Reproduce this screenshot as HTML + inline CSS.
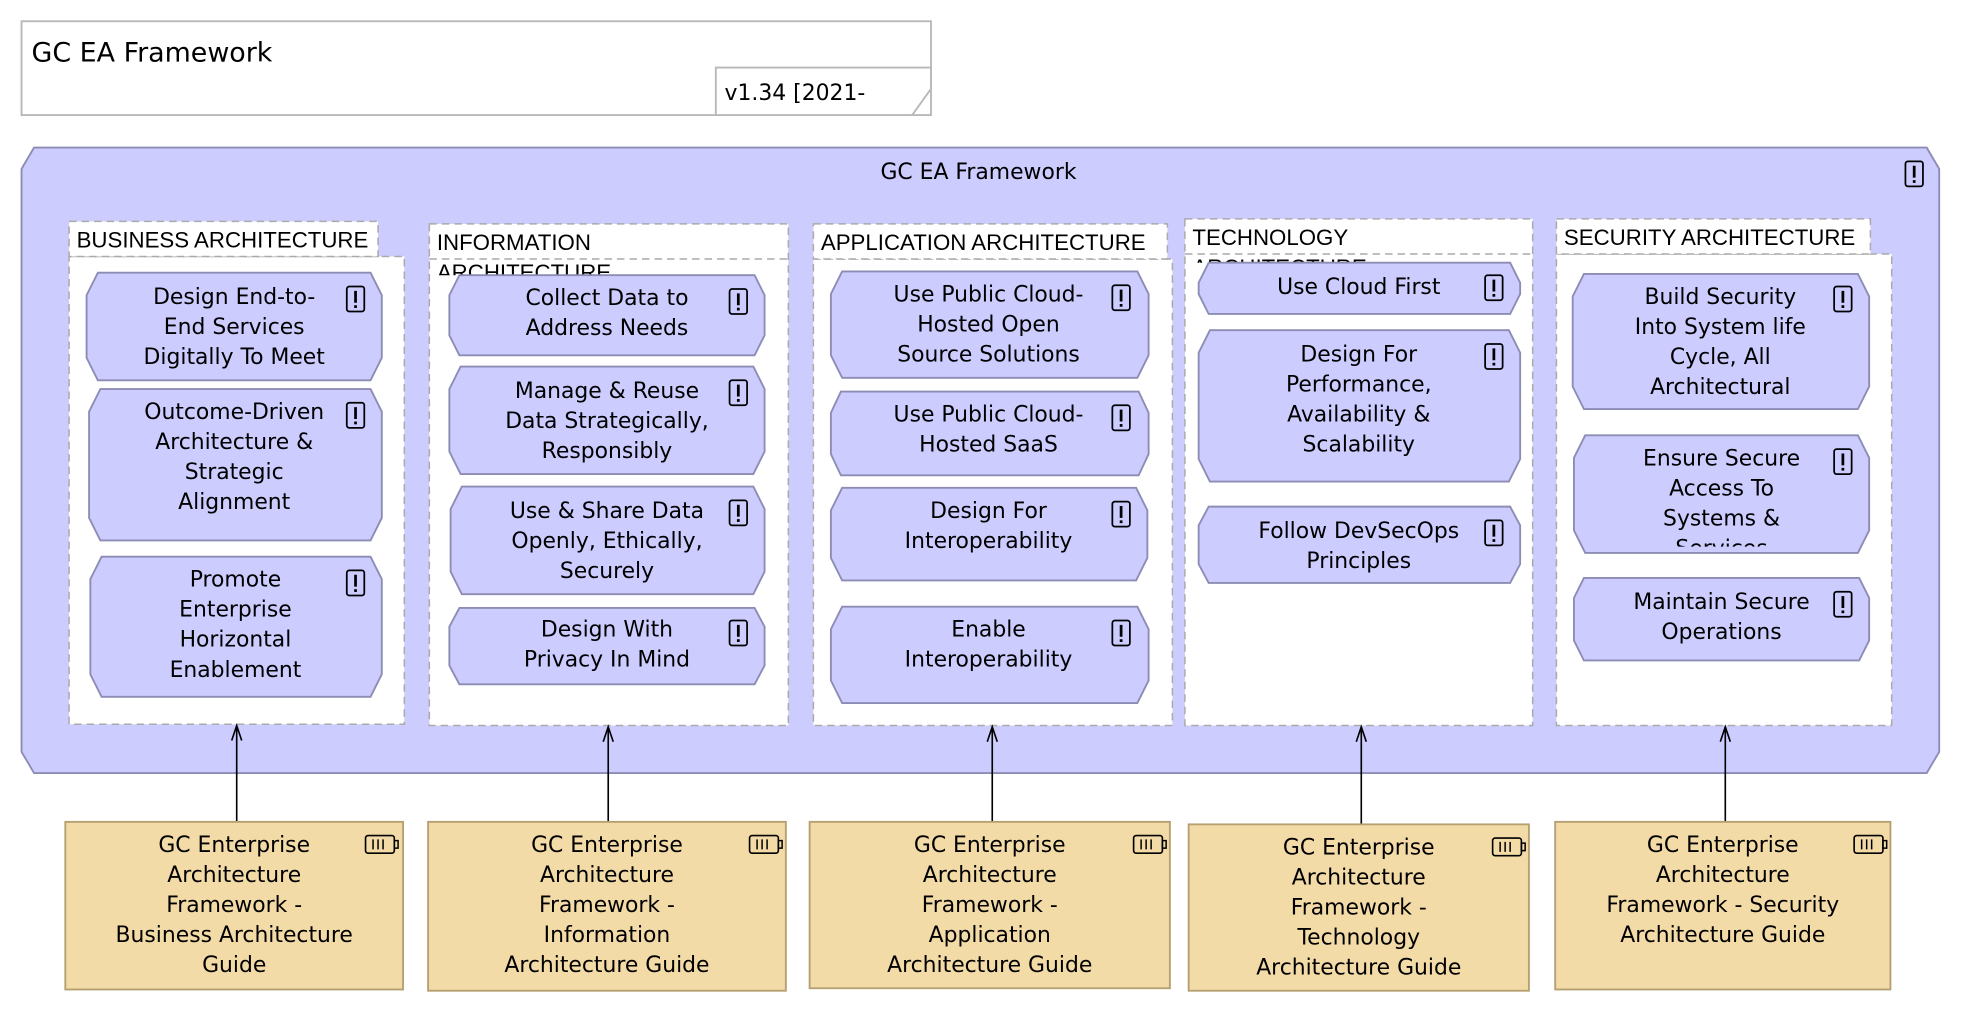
<!DOCTYPE html>
<html><head><meta charset="utf-8"><style>
html,body{margin:0;padding:0;background:#fff;}
svg{display:block;}
text{font-family:"DejaVu Sans","Liberation Sans",sans-serif;fill:#000;}
.p{fill:#ccccff;stroke:#8c8cb4;stroke-width:1.5;}
.g{fill:#fff;stroke:#aaaaaa;stroke-width:1.2;stroke-dasharray:6 4;}
.t{font-size:17.5px;text-anchor:middle;}
.gt{font-size:17.8px;font-family:"Liberation Sans",sans-serif;}
.r{fill:#f3dba7;stroke:#b5a072;stroke-width:1.5;}
</style></head><body>
<svg width="1962" height="1012" viewBox="0 0 1568 809" xmlns="http://www.w3.org/2000/svg">
<defs>
<symbol id="ex" viewBox="0 0 16 22"><rect x="1" y="1" width="14" height="20" rx="2" fill="none" stroke="#000" stroke-width="1.4"/><line x1="8" y1="4.5" x2="8" y2="14" stroke="#000" stroke-width="2.2"/><rect x="6.9" y="16" width="2.2" height="2.2" fill="#000"/></symbol>
<symbol id="bat" viewBox="0 0 28 16"><rect x="1" y="1" width="23" height="14" rx="2" fill="none" stroke="#000" stroke-width="1.3"/><rect x="24" y="5" width="3" height="6" fill="none" stroke="#000" stroke-width="1.2"/><line x1="7" y1="4" x2="7" y2="12" stroke="#000" stroke-width="1.2"/><line x1="11" y1="4" x2="11" y2="12" stroke="#000" stroke-width="1.2"/><line x1="15" y1="4" x2="15" y2="12" stroke="#000" stroke-width="1.2"/></symbol>
<clipPath id="c1"><rect x="343" y="179" width="287" height="41"/></clipPath>
<clipPath id="c2"><rect x="947" y="175" width="278" height="35"/></clipPath>
<clipPath id="c3"><rect x="1258" y="348" width="236" height="89"/></clipPath>
</defs>

<rect x="17" y="17" width="727" height="75" fill="#fff" stroke="#b8b8b8" stroke-width="1.5"/>
<text x="25" y="49" style="font-size:21.5px">GC EA Framework</text>
<polygon points="572,54 744,54 744,71 729,92 572,92" fill="#fff" stroke="#b8b8b8" stroke-width="1.5"/>
<text x="579" y="80" style="font-size:17.5px">v1.34 [2021-</text>

<polygon points="27,118 1540,118 1550,135 1550,601 1540,618 27,618 17,601 17,135" fill="#ccccff" stroke="#8c8cb4" stroke-width="1.5"/>
<text x="782" y="143" class="t">GC EA Framework</text>
<use href="#ex" x="1522" y="128" width="16" height="22"/>

<rect class="g" x="55" y="205" width="268" height="374"/>
<rect class="g" x="55" y="177" width="247" height="28"/>
<text x="61" y="198" class="gt">BUSINESS ARCHITECTURE</text>

<rect class="g" x="343" y="179" width="287" height="401"/>
<line x1="343" y1="207" x2="630" y2="207" class="g"/>
<g clip-path="url(#c1)"><text x="349" y="200" class="gt">INFORMATION</text><text x="349" y="224" class="gt">ARCHITECTURE</text></g>

<rect class="g" x="650" y="207" width="287" height="373"/>
<rect class="g" x="650" y="179" width="283" height="28"/>
<text x="656" y="200" class="gt">APPLICATION ARCHITECTURE</text>

<rect class="g" x="947" y="175" width="278" height="405"/>
<line x1="947" y1="203" x2="1225" y2="203" class="g"/>
<g clip-path="url(#c2)"><text x="953" y="196" class="gt">TECHNOLOGY</text><text x="953" y="220" class="gt">ARCHITECTURE</text></g>

<rect class="g" x="1244" y="203" width="268" height="377"/>
<rect class="g" x="1244" y="175" width="251" height="28"/>
<text x="1250" y="196" class="gt">SECURITY ARCHITECTURE</text>

<polygon class="p" points="78,218 296,218 305,236 305,286 296,304 78,304 69,286 69,236"/>
<text class="t"><tspan x="187" y="243">Design End-to-</tspan><tspan x="187" y="267">End Services</tspan><tspan x="187" y="291">Digitally To Meet</tspan></text>
<use href="#ex" x="276" y="228" width="16" height="22"/>
<polygon class="p" points="80,311 296,311 305,329 305,414 296,432 80,432 71,414 71,329"/>
<text class="t"><tspan x="187" y="335">Outcome-Driven</tspan><tspan x="187" y="359">Architecture &amp;</tspan><tspan x="187" y="383">Strategic</tspan><tspan x="187" y="407">Alignment</tspan></text>
<use href="#ex" x="276" y="321" width="16" height="22"/>
<polygon class="p" points="81,445 296,445 305,463 305,539 296,557 81,557 72,539 72,463"/>
<text class="t"><tspan x="188" y="469">Promote</tspan><tspan x="188" y="493">Enterprise</tspan><tspan x="188" y="517">Horizontal</tspan><tspan x="188" y="541">Enablement</tspan></text>
<use href="#ex" x="276" y="455" width="16" height="22"/>

<polygon class="p" points="367,220 603,220 611,236 611,268 603,284 367,284 359,268 359,236"/>
<text class="t"><tspan x="485" y="244">Collect Data to</tspan><tspan x="485" y="268">Address Needs</tspan></text>
<use href="#ex" x="582" y="230" width="16" height="22"/>
<polygon class="p" points="368,293 602,293 611,311 611,361 602,379 368,379 359,361 359,311"/>
<text class="t"><tspan x="485" y="318">Manage &amp; Reuse</tspan><tspan x="485" y="342">Data Strategically,</tspan><tspan x="485" y="366">Responsibly</tspan></text>
<use href="#ex" x="582" y="303" width="16" height="22"/>
<polygon class="p" points="369,389 602,389 611,407 611,457 602,475 369,475 360,457 360,407"/>
<text class="t"><tspan x="485" y="414">Use &amp; Share Data</tspan><tspan x="485" y="438">Openly, Ethically,</tspan><tspan x="485" y="462">Securely</tspan></text>
<use href="#ex" x="582" y="399" width="16" height="22"/>
<polygon class="p" points="367,486 603,486 611,501 611,532 603,547 367,547 359,532 359,501"/>
<text class="t"><tspan x="485" y="509">Design With</tspan><tspan x="485" y="533">Privacy In Mind</tspan></text>
<use href="#ex" x="582" y="495" width="16" height="22"/>

<polygon class="p" points="673,217 909,217 918,235 918,284 909,302 673,302 664,284 664,235"/>
<text class="t"><tspan x="790" y="241">Use Public Cloud-</tspan><tspan x="790" y="265">Hosted Open</tspan><tspan x="790" y="289">Source Solutions</tspan></text>
<use href="#ex" x="888" y="227" width="16" height="22"/>
<polygon class="p" points="672,313 910,313 918,330 918,363 910,380 672,380 664,363 664,330"/>
<text class="t"><tspan x="790" y="337">Use Public Cloud-</tspan><tspan x="790" y="361">Hosted SaaS</tspan></text>
<use href="#ex" x="888" y="323" width="16" height="22"/>
<polygon class="p" points="673,390 908,390 917,408 917,446 908,464 673,464 664,446 664,408"/>
<text class="t"><tspan x="790" y="414">Design For</tspan><tspan x="790" y="438">Interoperability</tspan></text>
<use href="#ex" x="888" y="400" width="16" height="22"/>
<polygon class="p" points="673,485 909,485 918,503 918,544 909,562 673,562 664,544 664,503"/>
<text class="t"><tspan x="790" y="509">Enable</tspan><tspan x="790" y="533">Interoperability</tspan></text>
<use href="#ex" x="888" y="495" width="16" height="22"/>

<polygon class="p" points="966,210 1207,210 1215,226 1215,235 1207,251 966,251 958,235 958,226"/>
<text class="t" x="1086" y="235">Use Cloud First</text>
<use href="#ex" x="1186" y="219" width="16" height="22"/>
<polygon class="p" points="967,264 1206,264 1215,282 1215,367 1206,385 967,385 958,367 958,282"/>
<text class="t"><tspan x="1086" y="289">Design For</tspan><tspan x="1086" y="313">Performance,</tspan><tspan x="1086" y="337">Availability &amp;</tspan><tspan x="1086" y="361">Scalability</tspan></text>
<use href="#ex" x="1186" y="274" width="16" height="22"/>
<polygon class="p" points="966,405 1207,405 1215,420 1215,451 1207,466 966,466 958,451 958,420"/>
<text class="t"><tspan x="1086" y="430">Follow DevSecOps</tspan><tspan x="1086" y="454">Principles</tspan></text>
<use href="#ex" x="1186" y="415" width="16" height="22"/>

<polygon class="p" points="1266,219 1485,219 1494,237 1494,309 1485,327 1266,327 1257,309 1257,237"/>
<text class="t"><tspan x="1375" y="243">Build Security</tspan><tspan x="1375" y="267">Into System life</tspan><tspan x="1375" y="291">Cycle, All</tspan><tspan x="1375" y="315">Architectural</tspan></text>
<use href="#ex" x="1465" y="228" width="16" height="22"/>
<polygon class="p" points="1267,348 1485,348 1494,366 1494,424 1485,442 1267,442 1258,424 1258,366"/>
<g clip-path="url(#c3)"><text class="t"><tspan x="1376" y="372">Ensure Secure</tspan><tspan x="1376" y="396">Access To</tspan><tspan x="1376" y="420">Systems &amp;</tspan><tspan x="1376" y="444">Services</tspan></text></g>
<use href="#ex" x="1465" y="358" width="16" height="22"/>
<polygon class="p" points="1266,462 1486,462 1494,478 1494,512 1486,528 1266,528 1258,512 1258,478"/>
<text class="t"><tspan x="1376" y="487">Maintain Secure</tspan><tspan x="1376" y="511">Operations</tspan></text>
<use href="#ex" x="1465" y="472" width="16" height="22"/>

<g stroke="#000" stroke-width="1.3" fill="none">
<line x1="189" y1="657" x2="189" y2="580"/><polyline points="185,592 189,580 193,592"/>
<line x1="486" y1="657" x2="486" y2="581"/><polyline points="482,593 486,581 490,593"/>
<line x1="793" y1="657" x2="793" y2="581"/><polyline points="789,593 793,581 797,593"/>
<line x1="1088" y1="659" x2="1088" y2="581"/><polyline points="1084,593 1088,581 1092,593"/>
<line x1="1379" y1="657" x2="1379" y2="581"/><polyline points="1375,593 1379,581 1383,593"/>
</g>

<rect class="r" x="52" y="657" width="270" height="134"/>
<text class="t"><tspan x="187" y="681">GC Enterprise</tspan><tspan x="187" y="705">Architecture</tspan><tspan x="187" y="729">Framework -</tspan><tspan x="187" y="753">Business Architecture</tspan><tspan x="187" y="777">Guide</tspan></text>
<use href="#bat" x="291" y="667" width="28" height="16"/>
<rect class="r" x="342" y="657" width="286" height="135"/>
<text class="t"><tspan x="485" y="681">GC Enterprise</tspan><tspan x="485" y="705">Architecture</tspan><tspan x="485" y="729">Framework -</tspan><tspan x="485" y="753">Information</tspan><tspan x="485" y="777">Architecture Guide</tspan></text>
<use href="#bat" x="598" y="667" width="28" height="16"/>
<rect class="r" x="647" y="657" width="288" height="133"/>
<text class="t"><tspan x="791" y="681">GC Enterprise</tspan><tspan x="791" y="705">Architecture</tspan><tspan x="791" y="729">Framework -</tspan><tspan x="791" y="753">Application</tspan><tspan x="791" y="777">Architecture Guide</tspan></text>
<use href="#bat" x="905" y="667" width="28" height="16"/>
<rect class="r" x="950" y="659" width="272" height="133"/>
<text class="t"><tspan x="1086" y="683">GC Enterprise</tspan><tspan x="1086" y="707">Architecture</tspan><tspan x="1086" y="731">Framework -</tspan><tspan x="1086" y="755">Technology</tspan><tspan x="1086" y="779">Architecture Guide</tspan></text>
<use href="#bat" x="1192" y="669" width="28" height="16"/>
<rect class="r" x="1243" y="657" width="268" height="134"/>
<text class="t"><tspan x="1377" y="681">GC Enterprise</tspan><tspan x="1377" y="705">Architecture</tspan><tspan x="1377" y="729">Framework - Security</tspan><tspan x="1377" y="753">Architecture Guide</tspan></text>
<use href="#bat" x="1481" y="667" width="28" height="16"/>
</svg>
</body></html>
